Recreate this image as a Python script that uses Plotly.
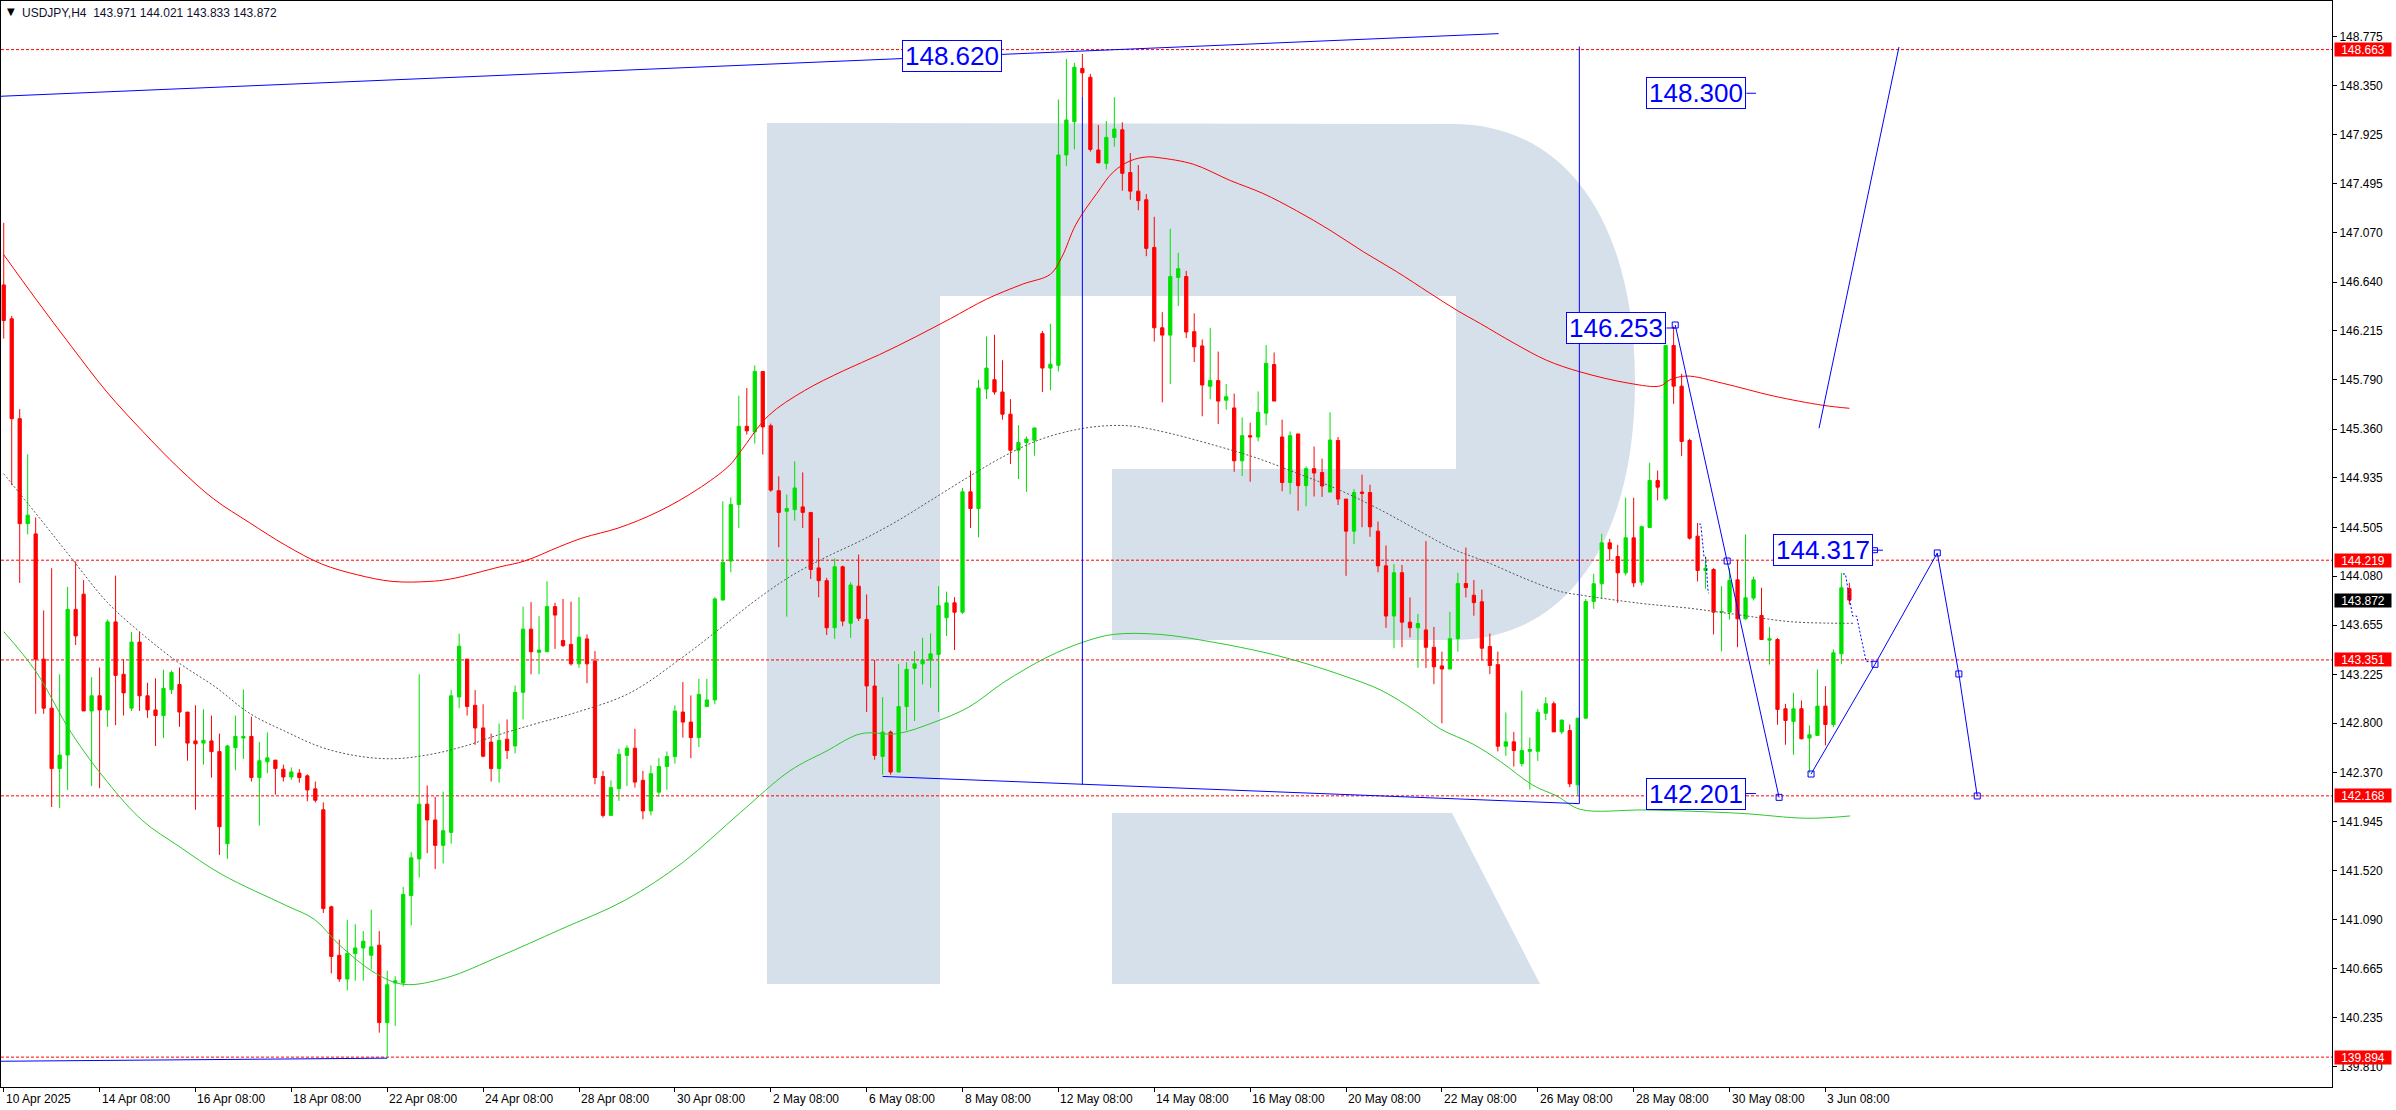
import plotly.graph_objects as go

# ---------------- data ----------------
opens = [
    146.615, 146.320, 145.451, 144.537, 144.448, 143.358, 142.931, 142.405, 142.523, 143.791,
    143.923, 142.907, 143.039, 142.916, 143.682, 143.226, 142.931, 143.506, 143.039, 142.916,
    142.867, 143.093, 143.137, 142.897, 142.646, 142.627, 142.646, 142.553, 141.752, 142.587,
    142.671, 142.685, 142.327, 142.464, 142.479, 142.400, 142.332, 142.366, 142.342, 142.229,
    142.047, 141.202, 140.780, 140.574, 140.795, 140.844, 140.780, 140.868, 140.195, 140.539,
    140.539, 141.300, 141.619, 142.096, 141.958, 141.737, 141.850, 143.029, 143.358, 142.956,
    142.759, 142.636, 142.405, 142.661, 142.602, 143.069, 143.619, 143.417, 143.422, 143.815,
    143.520, 143.486, 143.317, 143.534, 143.341, 142.336, 141.998, 142.230, 142.520, 142.583,
    142.303, 142.037, 142.200, 142.423, 142.510, 142.897, 142.810, 142.675, 142.945, 143.003,
    143.872, 144.211, 144.703, 145.384, 145.336, 145.862, 145.389, 144.824, 144.645, 144.659,
    144.683, 144.635, 144.152, 144.041, 143.631, 144.162, 143.670, 143.993, 143.703, 143.124,
    142.511, 142.723, 142.375, 142.945, 143.278, 143.317, 143.351, 143.399, 143.718, 143.848,
    143.766, 144.814, 144.669, 145.708, 145.790, 145.683, 145.490, 145.176, 145.244, 145.263,
    146.191, 145.891, 145.915, 147.746, 148.036, 148.499, 148.422, 147.789, 147.673, 147.899,
    147.965, 147.593, 147.431, 147.356, 146.941, 146.242, 146.178, 146.680, 146.688, 146.208,
    146.084, 145.733, 145.782, 145.612, 145.544, 145.084, 145.303, 145.291, 145.499, 145.922,
    145.291, 144.895, 145.318, 144.868, 145.016, 144.982, 144.812, 145.261, 144.751, 144.472,
    144.812, 144.808, 144.472, 144.170, 143.733, 144.110, 143.680, 143.631, 143.612, 143.461,
    143.299, 143.272, 143.536, 144.016, 143.914, 143.857, 143.468, 143.310, 142.600, 142.638,
    142.449, 142.556, 142.556, 142.887, 142.970, 142.725, 142.736, 142.264, 142.844, 143.860,
    144.014, 144.370, 144.251, 144.109, 144.414, 144.028, 144.504, 144.913, 144.753, 146.088,
    145.734, 145.261, 144.428, 144.130, 144.138, 143.767, 143.767, 144.048, 143.709, 143.889,
    143.738, 143.523, 143.529, 142.926, 142.816, 142.926, 142.671, 142.694, 142.949, 142.789,
    143.404, 143.971]
highs = [
    147.155, 146.345, 145.534, 145.141, 144.591, 143.781, 144.149, 143.226, 143.987, 144.208,
    144.046, 143.201, 143.285, 143.702, 144.085, 143.358, 143.594, 143.594, 143.152, 143.191,
    143.265, 143.260, 143.285, 142.897, 142.956, 142.921, 142.867, 142.710, 142.612, 142.867,
    143.093, 142.857, 142.636, 142.720, 142.479, 142.440, 142.415, 142.400, 142.356, 142.292,
    142.111, 141.212, 140.917, 141.089, 141.050, 140.991, 141.177, 140.991, 140.647, 140.598,
    141.374, 141.678, 143.226, 142.258, 142.160, 142.204, 143.088, 143.579, 143.358, 143.088,
    142.965, 142.710, 142.798, 142.833, 143.128, 143.815, 143.854, 143.732, 144.036, 143.849,
    143.882, 143.858, 143.897, 143.573, 143.428, 142.385, 142.303, 142.578, 142.607, 142.752,
    142.385, 142.433, 142.496, 142.554, 142.955, 143.158, 143.042, 143.187, 143.187, 143.897,
    144.732, 144.766, 145.650, 145.717, 145.915, 145.862, 145.408, 144.949, 144.790, 145.080,
    144.983, 144.635, 144.413, 144.066, 144.235, 144.172, 144.027, 144.268, 143.921, 143.351,
    143.027, 142.737, 143.317, 143.331, 143.428, 143.544, 143.582, 143.993, 143.945, 143.897,
    144.848, 144.998, 145.790, 146.166, 146.181, 145.959, 145.621, 145.394, 145.297, 145.370,
    146.215, 146.278, 148.229, 148.581, 148.547, 148.625, 148.451, 148.007, 148.041, 148.248,
    148.030, 147.763, 147.658, 147.405, 147.208, 146.378, 147.103, 146.895, 146.737, 146.367,
    146.140, 146.242, 146.035, 145.752, 145.669, 145.461, 145.416, 145.688, 146.091, 146.027,
    145.442, 145.340, 145.318, 145.035, 145.208, 145.103, 145.506, 145.291, 144.751, 144.838,
    144.963, 144.876, 144.555, 144.348, 144.185, 144.178, 143.895, 143.751, 144.385, 143.638,
    143.423, 143.770, 144.110, 144.329, 144.046, 143.963, 143.581, 143.423, 142.894, 142.725,
    143.083, 142.676, 142.925, 143.027, 142.989, 142.833, 142.789, 142.844, 143.880, 144.101,
    144.449, 144.405, 144.353, 144.762, 144.762, 144.521, 145.067, 144.999, 146.088, 146.253,
    145.841, 145.276, 144.544, 144.246, 144.150, 143.993, 144.150, 144.223, 144.443, 144.077,
    143.979, 143.636, 143.541, 142.969, 143.065, 142.998, 142.781, 143.268, 143.123, 143.442,
    144.109, 144.021]
lows = [
    146.148, 144.871, 144.021, 144.444, 142.882, 142.882, 142.071, 142.062, 142.219, 143.481,
    142.907, 142.253, 142.234, 142.769, 142.784, 142.867, 142.907, 142.907, 142.847, 142.602,
    142.671, 143.054, 142.769, 142.474, 142.047, 142.440, 142.327, 141.654, 141.620, 142.391,
    142.489, 142.293, 141.909, 142.366, 142.179, 142.293, 142.307, 142.283, 142.121, 142.111,
    141.148, 140.623, 140.549, 140.475, 140.559, 140.559, 140.657, 140.107, 139.894, 140.166,
    140.509, 141.040, 141.457, 141.669, 141.531, 141.580, 141.752, 142.931, 142.867, 142.612,
    142.504, 142.293, 142.283, 142.489, 142.538, 142.833, 143.226, 143.226, 143.422, 143.447,
    143.462, 143.302, 143.283, 143.148, 142.269, 141.979, 141.998, 142.124, 142.254, 142.240,
    141.964, 141.998, 142.158, 142.221, 142.448, 142.675, 142.496, 142.593, 142.945, 142.965,
    143.872, 144.114, 144.500, 145.312, 145.234, 145.138, 144.814, 144.331, 143.728, 144.563,
    144.500, 144.056, 143.896, 143.568, 143.534, 143.645, 143.544, 143.689, 142.897, 142.482,
    142.351, 142.351, 142.375, 142.737, 142.819, 143.138, 143.109, 142.897, 143.558, 143.438,
    143.752, 144.500, 144.418, 145.621, 145.660, 145.442, 145.056, 144.925, 144.814, 145.128,
    145.683, 145.698, 145.862, 147.649, 147.794, 148.248, 147.775, 147.673, 147.621, 147.818,
    147.435, 147.356, 147.265, 146.865, 146.122, 145.593, 145.752, 146.431, 146.152, 145.944,
    145.472, 145.620, 145.404, 145.529, 144.989, 144.952, 144.902, 145.253, 145.393, 145.604,
    144.819, 144.793, 144.650, 144.688, 144.774, 144.770, 144.812, 144.699, 144.083, 144.359,
    144.506, 144.423, 144.114, 143.630, 143.453, 143.461, 143.548, 143.283, 143.280, 143.140,
    142.800, 143.272, 143.423, 143.895, 143.736, 143.348, 143.227, 142.555, 142.517, 142.423,
    142.423, 142.223, 142.472, 142.827, 142.723, 142.706, 142.244, 142.170, 142.840, 143.796,
    143.883, 144.217, 143.848, 144.086, 143.985, 143.999, 144.504, 144.739, 144.739, 145.580,
    145.125, 144.399, 144.034, 143.970, 143.573, 143.425, 143.703, 143.462, 143.703, 143.869,
    143.529, 143.311, 142.787, 142.613, 142.525, 142.659, 142.369, 142.694, 142.607, 142.766,
    143.317, 143.833]
closes = [
    146.305, 145.451, 144.537, 144.611, 143.358, 142.931, 142.405, 142.523, 143.791, 143.560,
    142.907, 143.039, 142.916, 143.682, 143.216, 143.064, 143.506, 143.039, 142.916, 142.867,
    143.103, 143.241, 142.897, 142.627, 142.621, 142.651, 142.553, 141.899, 142.602, 142.685,
    142.685, 142.327, 142.474, 142.499, 142.405, 142.332, 142.376, 142.327, 142.219, 142.130,
    141.187, 140.770, 140.574, 140.795, 140.844, 140.903, 140.854, 140.195, 140.524, 140.559,
    141.310, 141.629, 142.096, 141.958, 141.737, 141.865, 143.039, 143.471, 142.946, 142.759,
    142.513, 142.405, 142.651, 142.563, 143.069, 143.619, 143.422, 143.437, 143.815, 143.741,
    143.476, 143.317, 143.549, 143.317, 142.327, 141.998, 142.240, 142.530, 142.583, 142.288,
    142.037, 142.361, 142.423, 142.510, 142.906, 142.810, 142.675, 143.051, 143.003, 143.882,
    144.201, 144.703, 145.384, 145.345, 145.862, 145.379, 144.829, 144.635, 144.669, 144.848,
    144.635, 144.138, 144.041, 143.631, 144.162, 143.689, 144.003, 143.713, 143.124, 142.520,
    142.723, 142.375, 142.945, 143.269, 143.317, 143.351, 143.404, 143.824, 143.848, 143.766,
    144.814, 144.669, 145.717, 145.891, 145.683, 145.490, 145.176, 145.244, 145.273, 145.370,
    145.891, 145.925, 147.746, 148.050, 148.509, 148.461, 147.794, 147.678, 147.899, 147.972,
    147.586, 147.431, 147.348, 146.933, 146.242, 146.178, 146.688, 146.756, 146.205, 146.076,
    145.744, 145.782, 145.604, 145.642, 145.084, 145.303, 145.291, 145.506, 145.933, 145.604,
    144.895, 145.303, 144.868, 145.016, 144.978, 144.865, 145.265, 144.751, 144.472, 144.808,
    144.801, 144.510, 144.170, 143.733, 144.110, 143.680, 143.631, 143.668, 143.461, 143.291,
    143.272, 143.536, 144.016, 143.982, 143.850, 143.453, 143.303, 142.600, 142.638, 142.563,
    142.563, 142.571, 142.895, 142.970, 142.725, 142.827, 142.273, 142.844, 143.860, 144.014,
    144.370, 144.318, 144.109, 144.414, 144.022, 144.510, 144.913, 144.855, 146.088, 145.734,
    145.252, 144.411, 144.130, 144.150, 143.767, 143.773, 144.043, 143.709, 143.892, 144.048,
    143.529, 143.535, 142.920, 142.824, 142.926, 142.665, 142.700, 142.949, 142.789, 143.413,
    143.979, 143.872]
bars = list(range(len(opens)))

date_tick_bars = [0, 12, 24, 36, 48, 60, 72, 84, 96, 108, 120, 132, 144, 156, 168, 180, 192, 204, 216, 228]
date_tick_labels = ["10 Apr 2025", "14 Apr 08:00", "16 Apr 08:00", "18 Apr 08:00", "22 Apr 08:00",
                    "24 Apr 08:00", "28 Apr 08:00", "30 Apr 08:00", "2 May 08:00", "6 May 08:00",
                    "8 May 08:00", "12 May 08:00", "14 May 08:00", "16 May 08:00", "20 May 08:00",
                    "22 May 08:00", "26 May 08:00", "28 May 08:00", "30 May 08:00", "3 Jun 08:00"]

price_ticks = [148.775, 148.350, 147.925, 147.495, 147.070, 146.640, 146.215, 145.790, 145.360,
               144.935, 144.505, 144.080, 143.655, 143.225, 142.800, 142.370, 141.945, 141.520,
               141.090, 140.665, 140.235, 139.810]
level_prices = [148.663, 144.219, 143.351, 142.168, 139.894]
last_price = 143.872
title_text = "USDJPY,H4  143.971 144.021 143.833 143.872"

# moving averages (bar index, price)
ma_red_x = [0, 4, 8.5, 12.9, 17.4, 21.9, 26.3, 30.8, 35.3, 39.8, 44.2, 48.7, 53.2, 55.9, 62.1, 65.2,
            69.6, 72.5, 77.0, 81.9, 86.8, 90.8, 92.2, 95.7, 100.2, 105.1, 109.6, 114.1, 118.5, 123.0,
            127.5, 131.0, 132.4, 134.2, 136.8, 138.9, 141.0, 143.1, 144.7, 148.9, 153.5, 157.6, 161.8,
            166.0, 170.2, 174.3, 178.5, 181.9, 184.8, 189.0, 193.1, 197.3, 203.5, 207.3, 208.5, 210.6,
            215.2, 221.5, 227.7, 231.0]
ma_red_y = [146.878, 146.494, 146.077, 145.684, 145.340, 145.021, 144.751, 144.544, 144.348, 144.186,
            144.093, 144.034, 144.034, 144.055, 144.161, 144.212, 144.338, 144.414, 144.501, 144.641,
            144.834, 145.042, 145.163, 145.476, 145.694, 145.868, 146.008, 146.162, 146.322, 146.491,
            146.621, 146.708, 146.853, 147.143, 147.411, 147.600, 147.695, 147.729, 147.721, 147.665,
            147.524, 147.411, 147.261, 147.091, 146.902, 146.732, 146.543, 146.393, 146.279, 146.109,
            145.959, 145.858, 145.758, 145.735, 145.787, 145.822, 145.758, 145.648, 145.567, 145.541]
ma_gray_x = [0, 4, 8.5, 12.9, 17.4, 21.9, 26.4, 30.8, 35.3, 39.8, 44.2, 48.7, 53.2, 57.6, 62.1, 66.6,
             71.6, 78.3, 85.0, 89.5, 93.9, 98.4, 102.9, 107.3, 111.8, 116.3, 120.8, 125.2, 129.7, 134.2,
             138.0, 141.4, 145.6, 151.4, 156.8, 161.8, 167.3, 172.3, 177.3, 181.4, 185.6, 190.6, 194.8,
             197.3, 204.8, 211.1, 217.3, 223.6, 229.8, 231.5]
ma_gray_y = [144.972, 144.628, 144.235, 143.857, 143.572, 143.326, 143.120, 142.885, 142.727, 142.590,
             142.516, 142.491, 142.526, 142.599, 142.703, 142.796, 142.893, 143.061, 143.376, 143.617,
             143.859, 144.076, 144.245, 144.390, 144.559, 144.752, 144.946, 145.124, 145.269, 145.355,
             145.389, 145.385, 145.329, 145.222, 145.109, 144.978, 144.826, 144.657, 144.468, 144.316,
             144.203, 144.053, 143.947, 143.916, 143.844, 143.800, 143.742, 143.684, 143.670, 143.670]
ma_green_x = [0, 4, 8.5, 12.9, 17.4, 21.9, 27.3, 35.3, 38.9, 42.0, 46.5, 50.1, 55.4, 62.1, 69.6, 77.8,
              85.0, 92.2, 98.4, 102.9, 107.3, 111.8, 116.3, 120.8, 125.2, 130.6, 135.1, 138.9, 144.7,
              151.4, 158.1, 163.1, 168.1, 172.3, 176.4, 179.8, 183.9, 187.3, 191.4, 194.4, 197.3, 205.6,
              217.3, 225.7, 231.1]
ma_green_y = [143.597, 143.253, 142.712, 142.295, 141.951, 141.730, 141.484, 141.215, 141.092, 140.871,
              140.625, 140.527, 140.585, 140.772, 141.003, 141.261, 141.589, 142.023, 142.386, 142.555,
              142.709, 142.709, 142.805, 142.941, 143.158, 143.375, 143.506, 143.573, 143.573, 143.505,
              143.411, 143.317, 143.203, 143.090, 142.920, 142.751, 142.618, 142.468, 142.260, 142.166,
              142.051, 142.045, 142.016, 141.973, 141.993]

# drawn analysis objects (bar index, price)
top_line_x, top_line_y = [-0.34, 187.1], [148.257, 148.802]
low_line_x, low_line_y = [-0.34, 48.0], [139.858, 139.885]
support_line_x, support_line_y = [110.0, 197.2], [142.337, 142.100]
vline1_x, vline1_y = [135.0, 135.0], [142.265, 148.250]
vline2_x, vline2_y = [197.2, 197.2], [142.100, 148.690]
wave_down_x, wave_down_y = [209.2, 215.7, 222.2], [146.266, 144.212, 142.155]
wave_fore_x = [226.2, 234.2, 242.0, 244.7, 247.0]
wave_fore_y = [142.358, 143.313, 144.282, 143.229, 142.167]
wave_up_x, wave_up_y = [227.2, 237.2], [145.368, 148.685]
dots1_x = [212.2, 212.4, 212.8, 213.0, 213.3, 213.4]
dots1_y = [144.533, 144.533, 144.249, 144.249, 143.960, 143.931]
dots2_x = [230.2, 230.5, 231.4, 231.9, 233.1, 234.0]
dots2_y = [144.099, 144.099, 143.733, 143.733, 143.336, 143.336]

label_texts = ["148.620", "148.300", "146.253", "144.317", "142.201"]
label_prices = [148.607, 148.283, 146.240, 144.306, 142.188]
label_right_bars = [124.9, 218.1, 208.1, 233.9, 218.0]
label_stub_end = [None, 219.3, 209.2, 235.2, 219.3]

# ---------------- layout geometry / styles ----------------
W, H = 2396, 1110
ML, MR, MT, MB = 1, 64, 1, 23
PW, PH = W - ML - MR, H - MT - MB
X_RANGE = [-0.34, 291.4]
Y_RANGE = [139.634, 149.086]
GREEN, RED, BLUE = "#00E000", "#FF0000", "#0000FF"
WM = "rgb(214,224,235)"
FONT = "Liberation Sans"


def px(x):
    return (x - ML) / PW


def py(y):
    return 1 - (y - MT) / PH


def path(points_cmds):
    out = []
    for cmd, pts in points_cmds:
        s = cmd + " " + " ".join(f"{px(a):.5f},{py(b):.5f}" for a, b in pts)
        out.append(s)
    return " ".join(out) + " Z"


# watermark "R" (pixel geometry of the logo)
cx, cy, rx, ry, k = 1453, 382, 182, 258, 0.62
r_body = path([
    ("M", [(767, 123)]),
    ("L", [(cx, cy - ry)]),
    ("C", [(cx + k * rx, cy - ry), (cx + rx, cy - k * ry), (cx + rx, cy)]),
    ("C", [(cx + rx, cy + k * ry), (cx + k * rx, cy + ry), (cx, cy + ry)]),
    ("L", [(1112, 640)]), ("L", [(1112, 469)]), ("L", [(1456, 469)]), ("L", [(1456, 296)]),
    ("L", [(940, 296)]), ("L", [(940, 984)]), ("L", [(767, 984)]),
])
r_leg = path([("M", [(1112, 813)]), ("L", [(1452, 813)]), ("L", [(1540, 984)]), ("L", [(1112, 984)])])

shapes = [
    dict(type="path", xref="paper", yref="paper", path=r_body, fillcolor=WM, line=dict(width=0), layer="below"),
    dict(type="path", xref="paper", yref="paper", path=r_leg, fillcolor=WM, line=dict(width=0), layer="below"),
]
for p in level_prices:
    shapes.append(dict(type="line", xref="paper", yref="y", x0=0, x1=1, y0=p, y1=p,
                       line=dict(color=RED, width=1, dash="3px,2px"), layer="below"))

fig = go.Figure()


def line(x, y, color, dash=None, width=1, shape="linear"):
    fig.add_trace(go.Scatter(x=x, y=y, mode="lines", hoverinfo="skip", showlegend=False,
                             line=dict(color=color, width=width, dash=dash, shape=shape)))


line(ma_red_x, ma_red_y, RED, shape="spline")
line(ma_gray_x, ma_gray_y, "#555555", dash="2px,2px", shape="spline")
line(ma_green_x, ma_green_y, "#2EC82E", shape="spline")

for xs, ys in [(top_line_x, top_line_y), (low_line_x, low_line_y), (support_line_x, support_line_y),
               (vline1_x, vline1_y), (vline2_x, vline2_y), (wave_up_x, wave_up_y)]:
    line(xs, ys, BLUE)
for xs, ys in [(dots1_x, dots1_y), (dots2_x, dots2_y)]:
    line(xs, ys, BLUE, dash="2px,2px")
for xs, ys in [(wave_down_x, wave_down_y), (wave_fore_x, wave_fore_y)]:
    fig.add_trace(go.Scatter(x=xs, y=ys, mode="lines+markers", hoverinfo="skip", showlegend=False,
                             line=dict(color=BLUE, width=1),
                             marker=dict(symbol="square-open", size=6, color=BLUE, line=dict(width=1))))

# label stubs
for pr, xr, xe in zip(label_prices, label_right_bars, label_stub_end):
    if xe is not None:
        line([xr, xe], [pr, pr], BLUE)
fig.add_trace(go.Scatter(x=[234.2], y=[label_prices[3]], mode="markers", hoverinfo="skip", showlegend=False,
                         marker=dict(symbol="square-open", size=5, color=BLUE, line=dict(width=1))))

fig.add_trace(go.Candlestick(
    x=bars, open=opens, high=highs, low=lows, close=closes, whiskerwidth=0,
    increasing=dict(line=dict(color=GREEN, width=1), fillcolor=GREEN),
    decreasing=dict(line=dict(color=RED, width=1), fillcolor=RED),
    hoverinfo="skip", showlegend=False))

annotations = []
for t, pr, xr in zip(label_texts, label_prices, label_right_bars):
    annotations.append(dict(x=xr, y=pr, xref="x", yref="y", xanchor="right", yanchor="middle",
                            text=t, showarrow=False, font=dict(family=FONT, size=26, color=BLUE),
                            bgcolor="white", bordercolor=BLUE, borderwidth=1, borderpad=0,
                            width=98, height=30))
for b, t in zip(date_tick_bars, date_tick_labels):
    annotations.append(dict(x=b, y=0, xref="x", yref="paper", xanchor="left", yanchor="top", yshift=-3,
                            xshift=0, text=t, showarrow=False, font=dict(family=FONT, size=12, color="black")))
for p in level_prices:
    annotations.append(dict(x=1, y=p, xref="paper", yref="y", xanchor="left", yanchor="middle", xshift=2,
                            text=f"{p:.3f}", showarrow=False, font=dict(family=FONT, size=12, color="white"),
                            bgcolor=RED, width=54, height=11, borderpad=1))
annotations.append(dict(x=1, y=last_price, xref="paper", yref="y", xanchor="left", yanchor="middle", xshift=2,
                        text=f"{last_price:.3f}", showarrow=False,
                        font=dict(family=FONT, size=12, color="white"),
                        bgcolor="black", width=54, height=11, borderpad=1))
annotations.append(dict(x=0, y=1, xref="paper", yref="paper", xanchor="left", yanchor="top", xshift=4, yshift=-3,
                        text="▼", showarrow=False, font=dict(family="DejaVu Sans", size=10, color="black")))
annotations.append(dict(x=0, y=1, xref="paper", yref="paper", xanchor="left", yanchor="top", xshift=19, yshift=-3,
                        text=title_text, showarrow=False, font=dict(family=FONT, size=12, color="#101030")))

fig.update_layout(
    width=W, height=H, margin=dict(l=ML, r=MR, t=MT, b=MB, pad=0),
    paper_bgcolor="white", plot_bgcolor="white", showlegend=False, boxgap=0.42,
    shapes=shapes, annotations=annotations,
    xaxis=dict(range=X_RANGE, showgrid=False, zeroline=False, showline=True, mirror=True,
               linecolor="black", linewidth=1, tickmode="array", tickvals=date_tick_bars,
               showticklabels=False, ticks="outside", ticklen=4, tickcolor="black",
               rangeslider=dict(visible=False), fixedrange=True),
    yaxis=dict(range=Y_RANGE, side="right", showgrid=False, zeroline=False, showline=True, mirror=True,
               linecolor="black", linewidth=1, tickmode="array", tickvals=price_ticks,
               ticktext=[f"{v:.3f}" for v in price_ticks], ticks="outside", ticklen=4, tickcolor="black",
               tickfont=dict(family=FONT, size=12, color="black"), fixedrange=True),
)

fig.write_html("out.html", config={"displayModeBar": False},
               post_script="document.body.style.margin='0px';document.body.style.padding='0px';"
                           "document.body.style.overflow='hidden';")
